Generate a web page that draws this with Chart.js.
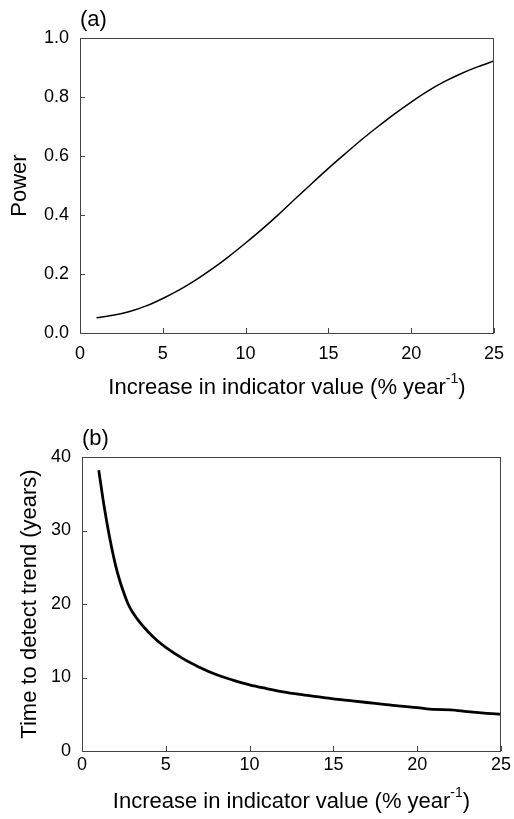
<!DOCTYPE html>
<html>
<head>
<meta charset="utf-8">
<script src="https://cdn.jsdelivr.net/npm/chart.js@4.4.1/dist/chart.umd.min.js"></script>
<style>
  html, body { margin: 0; padding: 0; background: #fff; }
  .panel { position: relative; width: 514px; }
  #panelA { height: 410px; }
  #panelB { height: 409px; }
  canvas { display: block; }
</style>
</head>
<body>
<div class="panel" id="panelA"><canvas id="powerChart" width="514" height="410"></canvas></div>
<div class="panel" id="panelB"><canvas id="timeChart" width="514" height="409"></canvas></div>
<script>
// (a) statistical power vs. annual increase
const powerX = [1, 2, 3, 4, 5, 6, 7, 8, 9, 10, 11, 12, 13, 14, 15, 16, 17, 18, 19, 20, 21, 22, 23, 24, 25];
const powerY = [0.052, 0.060, 0.073, 0.092, 0.117, 0.146, 0.180, 0.218, 0.260, 0.305, 0.352, 0.402, 0.455, 0.507,
                0.558, 0.607, 0.655, 0.700, 0.743, 0.783, 0.820, 0.852, 0.879, 0.902, 0.922];

// (b) years needed to detect the trend
const timeX = [1, 1.25, 1.5, 1.75, 2, 2.25, 2.5, 2.75, 3, 3.5, 4, 4.5, 5, 6, 7, 8, 9, 10, 11, 12, 13, 14, 15, 16, 17,
               18, 19, 20, 21, 22, 23, 24, 25];
const timeY = [38.2, 34.3, 30.9, 27.9, 25.3, 23.2, 21.5, 20.0, 18.95, 17.35, 16.1, 15.0, 14.1, 12.6, 11.4, 10.4, 9.65,
               9.0, 8.5, 8.05, 7.7, 7.4, 7.1, 6.85, 6.6, 6.35, 6.1, 5.9, 5.65, 5.6, 5.35, 5.15, 5.0];

const xTicks = [0, 5, 10, 15, 20, 25];
const powerTicks = [0, 0.2, 0.4, 0.6, 0.8, 1.0];
const timeTicks = [0, 10, 20, 30, 40];

const FONT = 'Liberation Sans, Arial, sans-serif';
const AXIS_COLOR = '#444';

// box, inward ticks, panel letter and axis titles
function framePlugin(letter, xTitleGap, yTitleX, yTitle) {
  return {
    id: 'frame' + letter,
    afterDraw(chart) {
      const { ctx, chartArea: a, scales } = chart;
      ctx.save();
      ctx.strokeStyle = AXIS_COLOR;
      ctx.lineWidth = 1;
      ctx.strokeRect(a.left + 0.5, a.top + 0.5, a.right - a.left - 1, a.bottom - a.top);
      ctx.beginPath();
      scales.x.ticks.forEach(t => {
        const px = Math.round(scales.x.getPixelForValue(t.value)) + 0.5;
        ctx.moveTo(px, a.bottom);
        ctx.lineTo(px, a.bottom - 5);
      });
      scales.y.ticks.forEach(t => {
        const py = Math.round(scales.y.getPixelForValue(t.value)) + 0.5;
        ctx.moveTo(a.left, py);
        ctx.lineTo(a.left + 5, py);
      });
      ctx.stroke();

      ctx.fillStyle = '#000';
      ctx.textBaseline = 'middle';
      ctx.font = '22px ' + FONT;
      ctx.textAlign = 'left';
      ctx.fillText('(' + letter + ')', a.left, a.top - 18);

      // x title with superscript
      const main = 'Increase in indicator value (% year';
      const sup = '-1';
      const close = ')';
      ctx.font = '22px ' + FONT;
      const wMain = ctx.measureText(main).width;
      const wClose = ctx.measureText(close).width;
      ctx.font = '14px ' + FONT;
      const wSup = ctx.measureText(sup).width;
      const total = wMain + wSup + wClose;
      const x0 = (a.left + a.right) / 2 - total / 2;
      const ty = a.bottom + xTitleGap;
      ctx.font = '22px ' + FONT;
      ctx.fillText(main, x0, ty);
      ctx.font = '14px ' + FONT;
      ctx.fillText(sup, x0 + wMain, ty - 9);
      ctx.font = '22px ' + FONT;
      ctx.fillText(close, x0 + wMain + wSup, ty);

      ctx.translate(yTitleX, (a.top + a.bottom) / 2);
      ctx.rotate(-Math.PI / 2);
      ctx.textAlign = 'center';
      ctx.fillText(yTitle, 0, 0);
      ctx.restore();
    }
  };
}

function makeChart(id, xs, ys, opts) {
  const points = xs.map((x, i) => ({ x, y: ys[i] }));
  return new Chart(document.getElementById(id), {
    type: 'line',
    data: {
      datasets: [{
        data: points,
        borderColor: '#000',
        borderWidth: opts.lineWidth,
        pointRadius: 0,
        cubicInterpolationMode: 'monotone',
        fill: false
      }]
    },
    options: {
      responsive: false,
      animation: false,
      events: [],
      layout: { padding: { top: opts.top, right: opts.right, left: 0, bottom: 0 } },
      plugins: { legend: { display: false }, tooltip: { enabled: false } },
      scales: {
        x: {
          type: 'linear',
          min: 0,
          max: 25,
          afterBuildTicks: s => { s.ticks = xTicks.map(v => ({ value: v })); },
          afterFit: s => { s.height = opts.xHeight; },
          grid: { display: false, drawTicks: false },
          border: { display: false },
          ticks: { color: '#000', font: { family: FONT, size: 18 }, padding: opts.xPad, maxRotation: 0 }
        },
        y: {
          min: opts.yMin,
          max: opts.yMax,
          afterBuildTicks: s => { s.ticks = opts.yTicks.map(v => ({ value: v })); },
          afterFit: s => { s.width = opts.yWidth; },
          grid: { display: false, drawTicks: false },
          border: { display: false },
          ticks: {
            color: '#000',
            font: { family: FONT, size: 18 },
            padding: 11,
            callback: opts.yFormat
          }
        }
      }
    },
    plugins: [framePlugin(opts.letter, opts.xTitleGap, opts.yTitleX, opts.yTitle)]
  });
}

makeChart('powerChart', powerX, powerY, {
  letter: 'a', lineWidth: 1.5, top: 38, right: 13, xHeight: 77, yWidth: 80,
  xPad: 10, xTitleGap: 55, yTitleX: 20, yTitle: 'Power',
  yMin: 0, yMax: 1, yTicks: powerTicks, yFormat: v => v.toFixed(1)
});

makeChart('timeChart', timeX, timeY, {
  letter: 'b', lineWidth: 2.8, top: 47, right: 11, xHeight: 68, yWidth: 82,
  xPad: 3, xTitleGap: 51, yTitleX: 30, yTitle: 'Time to detect trend (years)',
  yMin: 0, yMax: 40, yTicks: timeTicks, yFormat: v => String(v)
});
</script>
</body>
</html>
